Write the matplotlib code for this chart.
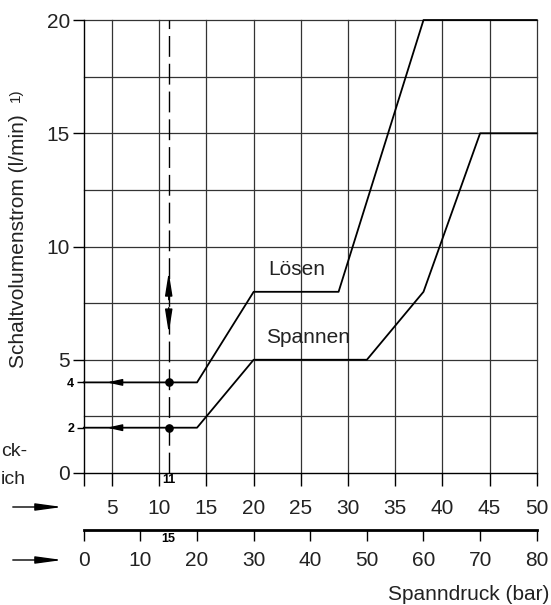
import matplotlib
matplotlib.use("Agg")
import matplotlib.pyplot as plt

plt.rcParams['font.family'] = ['Liberation Sans', 'DejaVu Sans']

# curves, x in units of the upper scale, y in l/min
loesen_x = [2, 14, 20, 29, 38, 50]
loesen_y = [4, 4, 8, 8, 20, 20]
spannen_x = [2, 14, 20, 32, 38, 44, 50]
spannen_y = [2, 2, 5, 5, 8, 15, 15]

upper_ticks = [5, 10, 15, 20, 25, 30, 35, 40, 45, 50]
lower_ticks = [0, 10, 20, 30, 40, 50, 60, 70, 80]
y_major = [0, 5, 10, 15, 20]
y_grid = [2.5, 5, 7.5, 10, 12.5, 15, 17.5, 20]
y_marks = [2, 4]
x_mark = 11          # upper scale
x_mark_lower = 15    # same point on the lower scale

X_MIN, X_MAX = 2, 50


def to_lower(x):
    return (x - X_MIN) * 80.0 / (X_MAX - X_MIN)


def to_upper(b):
    return b * (X_MAX - X_MIN) / 80.0 + X_MIN


fig = plt.figure(figsize=(5.51, 6.05), dpi=100)
ax = fig.add_axes([0.1521, 0.2182, 0.822, 0.7487])
ax.set_xlim(X_MIN, X_MAX)
ax.set_ylim(0, 20)

gc = '#333333'
for x in upper_ticks:
    ax.axvline(x, color=gc, lw=0.9, zorder=1, clip_on=False)
for y in y_grid:
    ax.axhline(y, color=gc, lw=0.9, zorder=1, clip_on=False)

for s in ['top', 'right']:
    ax.spines[s].set_visible(False)
ax.spines['left'].set_linewidth(1.0)
ax.spines['bottom'].set_linewidth(1.0)

# curves
ax.plot(loesen_x, loesen_y, color='black', lw=1.3, zorder=3, clip_on=False)
ax.plot(spannen_x, spannen_y, color='black', lw=1.3, zorder=3, clip_on=False)
ax.text(24.6, 9.0, 'Lösen', fontsize=15, ha='center', va='center', color='#222222')
ax.text(25.8, 6.0, 'Spannen', fontsize=15, ha='center', va='center', color='#222222')

# dashed marker line
ax.plot([x_mark, x_mark], [0, 20], color='black', lw=1.0, dashes=(15, 5), zorder=3)
ax.plot([x_mark, x_mark], y_marks, 'o', color='black', ms=5.2, zorder=4)

head = dict(mutation_scale=10, shrinkA=0, shrinkB=0, color='black', lw=1.0)
for y in y_marks:
    ax.annotate('', xy=(4.45, y), xytext=(5.9, y),
                arrowprops=dict(arrowstyle='-|>,head_length=0.9,head_width=0.2', **head))
ax.annotate('', xy=(x_mark, 8.87), xytext=(x_mark, 7.65),
            arrowprops=dict(arrowstyle='-|>,head_length=1.4,head_width=0.22', **head))
ax.annotate('', xy=(x_mark, 6.18), xytext=(x_mark, 7.3),
            arrowprops=dict(arrowstyle='-|>,head_length=1.4,head_width=0.22', **head))

# y axis
ax.set_yticks(y_major)
ax.set_yticklabels([str(v) for v in y_major])
ax.set_yticks(y_marks, labels=[str(v) for v in y_marks], minor=True)
ax.tick_params(axis='y', which='major', length=8, width=1.0, pad=2,
               labelsize=15, labelcolor='#222222')
ax.tick_params(axis='y', which='minor', length=5, width=1.0, pad=2, labelsize=9)
for lab in ax.get_yticklabels(minor=True):
    lab.set_fontweight('bold')

# upper x scale (bottom of main axes)
ax.set_xticks([X_MIN] + upper_ticks)
ax.set_xticklabels([''] + [str(v) for v in upper_ticks])
ax.set_xticks([x_mark], labels=[str(x_mark)], minor=True)
ax.tick_params(axis='x', which='major', length=9, width=1.0, pad=10,
               labelsize=15, labelcolor='#222222')
ax.tick_params(axis='x', which='minor', length=0, pad=1, labelsize=9)
for lab in ax.get_xticklabels(minor=True):
    lab.set_fontweight('bold')

# lower x scale in bar
sec = ax.secondary_xaxis(-0.1258, functions=(to_lower, to_upper))
sec.set_xticks(lower_ticks)
sec.set_xticklabels([str(v) for v in lower_ticks])
sec.set_xticks([x_mark_lower], labels=[str(x_mark_lower)], minor=True)
sec.spines['bottom'].set_linewidth(2.0)
sec.tick_params(axis='x', which='major', length=8, width=1.0, pad=7,
                labelsize=15, labelcolor='#222222')
sec.tick_params(axis='x', which='minor', length=0, pad=2, labelsize=9)
for lab in sec.get_xticklabels(minor=True):
    lab.set_fontweight('bold')

# labels
W, H = 551.0, 605.0
fig.text(19 / W, 1 - 241.5 / H, 'Schaltvolumenstrom (l/min)', rotation=90,
         fontsize=15, ha='center', va='center', color='#222222')
fig.text(16 / W, 1 - 95 / H, '1)', rotation=90, fontsize=11,
         ha='center', va='center', color='#222222')
fig.text(549 / W, 1 - 594 / H, 'Spanndruck (bar)', fontsize=15,
         ha='right', va='center', color='#222222')
# only the tail of this label is visible in the source picture
fig.text(1 / W, 1 - 452 / H, 'ck-', fontsize=14, ha='left', va='center',
         color='#222222')
fig.text(1 / W, 1 - 480 / H, 'ich', fontsize=14, ha='left', va='center',
         color='#222222')

for yy in [507, 560]:
    fig.add_artist(matplotlib.patches.FancyArrowPatch(
        (10 / W, 1 - yy / H), (65 / W, 1 - yy / H), transform=fig.transFigure,
        arrowstyle='-|>,head_length=1.6,head_width=0.22', mutation_scale=10,
        color='black', lw=1.0))

fig.savefig('out.png', dpi=100)
